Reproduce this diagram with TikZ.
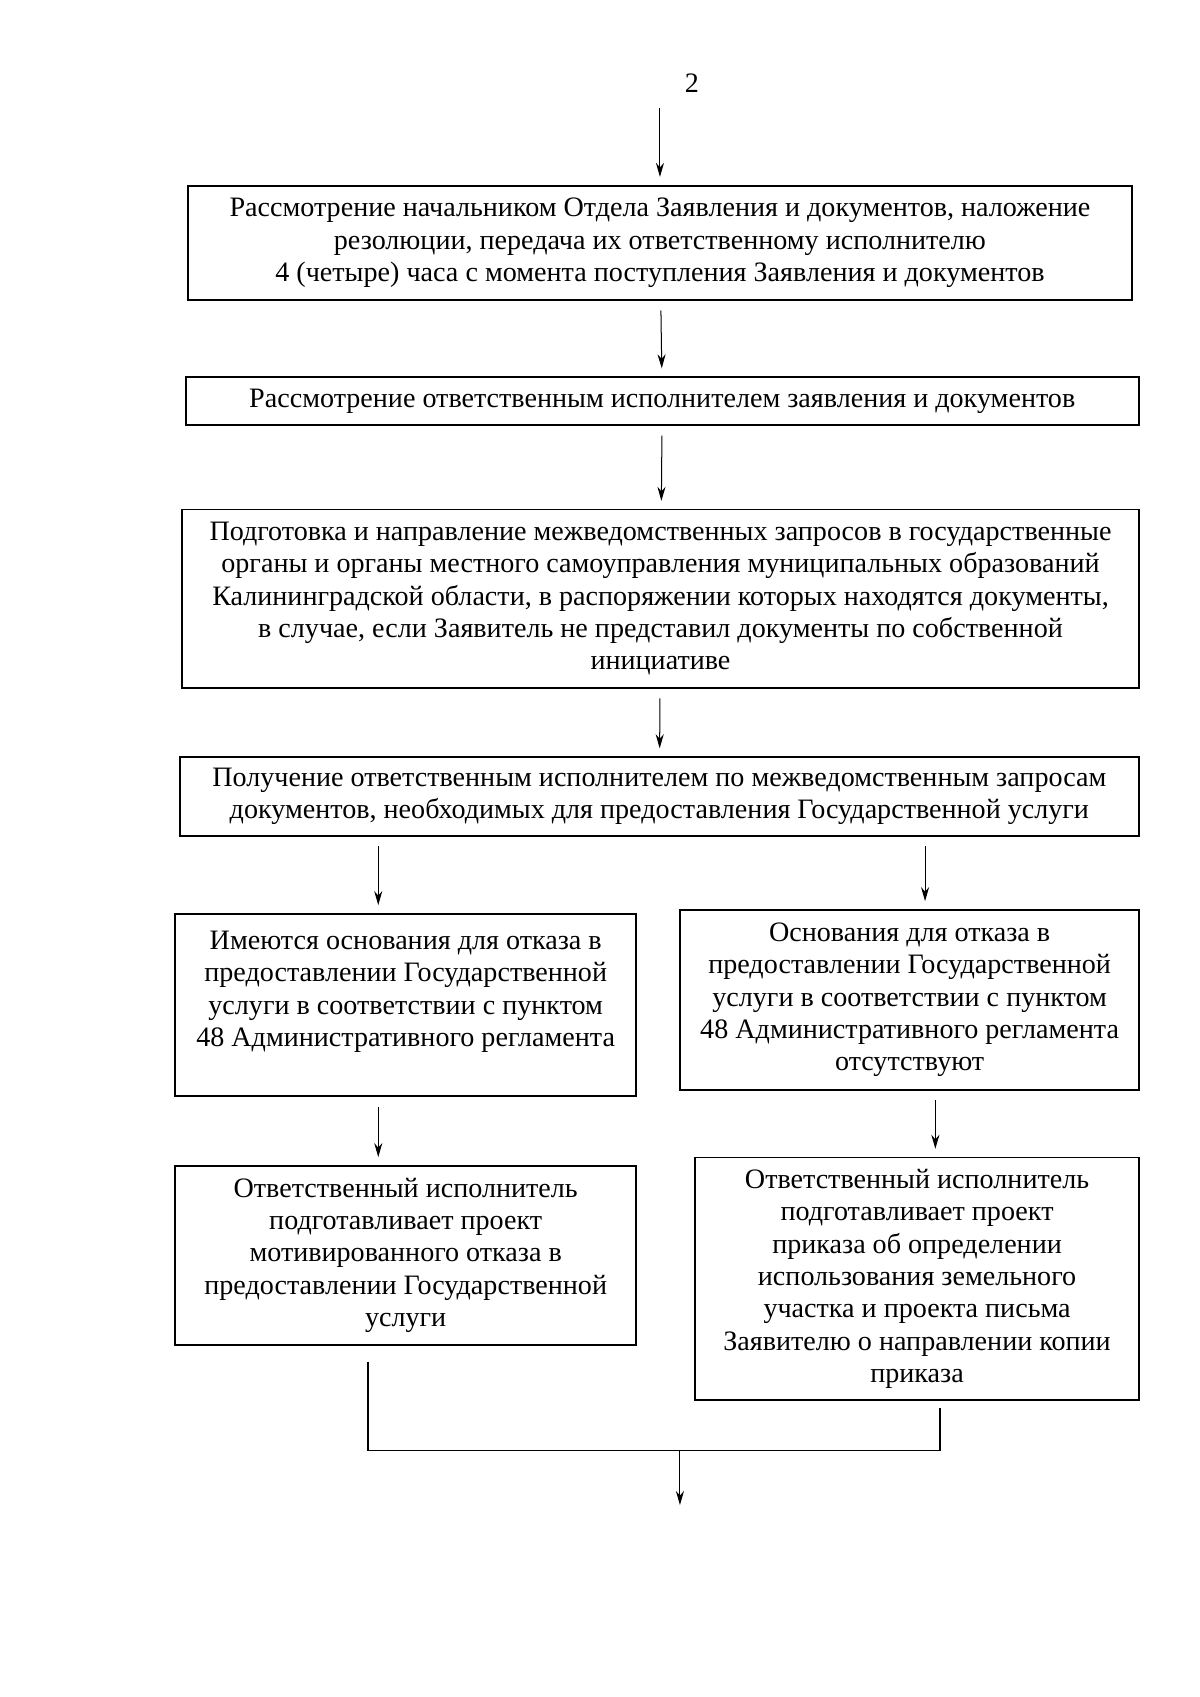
\documentclass[tikz,border=0pt]{standalone}
\usepackage{fontspec}
\setmainfont{Liberation Serif}
\usetikzlibrary{arrows.meta}
\tikzset{
  stage/.style={draw, rectangle, line width=0.8pt, align=center, inner sep=2pt},
  arr/.style={->, line width=0.5pt, shorten <=0.17cm, shorten >=0.14cm}
}
\begin{document}
\begin{tikzpicture}[>={Stealth[length=7pt,width=4pt]}, font=\fontsize{14}{16.1}\selectfont]
\useasboundingbox (0,0) rectangle (21,-29.7);
\node (num) at (12.11,-1.45) {2};
\coordinate (start) at (11.55,-1.89);

\node[stage, minimum width=16.52cm, minimum height=2.0cm] (b1) at (11.55,-4.25) {Рассмотрение начальником Отдела Заявления и документов, наложение\\резолюции, передача их ответственному исполнителю\\4 (четыре) часа с момента поступления Заявления и документов};
\node[stage, minimum width=16.68cm, minimum height=0.84cm] (b2) at (11.59,-7.02) {Рассмотрение ответственным исполнителем заявления и документов};
\node[stage, minimum width=16.75cm, minimum height=3.12cm] (b3) at (11.56,-10.48) {Подготовка и направление межведомственных запросов в государственные\\органы и органы местного самоуправления муниципальных образований\\Калининградской области, в распоряжении которых находятся документы,\\в случае, если Заявитель не представил документы по собственной\\инициативе};
\node[stage, minimum width=16.78cm, minimum height=1.38cm] (b4) at (11.54,-13.94) {Получение ответственным исполнителем по межведомственным запросам\\документов, необходимых для предоставления Государственной услуги};
\node[stage, minimum width=8.07cm, minimum height=3.19cm] (b5) at (7.10,-17.59) {Имеются основания для отказа в\\предоставлении Государственной\\услуги в соответствии с пунктом\\48 Административного регламента\\~};
\node[stage, minimum width=8.03cm, minimum height=3.15cm] (b6) at (15.92,-17.50) {Основания для отказа в\\предоставлении Государственной\\услуги в соответствии с пунктом\\48 Административного регламента\\отсутствуют};
\node[stage, minimum width=8.07cm, minimum height=3.13cm] (b7) at (7.10,-21.97) {Ответственный исполнитель\\подготавливает проект\\мотивированного отказа в\\предоставлении Государственной\\услуги};
\node[stage, minimum width=7.77cm, minimum height=4.24cm] (b8) at (16.05,-22.38) {Ответственный исполнитель\\подготавливает проект\\приказа об определении\\использования земельного\\участка и проекта письма\\Заявителю о направлении копии\\приказа};

\coordinate (mid) at (11.9,-25.38);
\coordinate (end) at (11.9,-26.34);

\draw[->, line width=0.5pt, shorten >=0.14cm] (start) -- (b1);
\draw[arr] (b1) -- (b2);
\draw[arr] (b2) -- (b3);
\draw[arr] (b3) -- (b4);
\draw[arr] ([xshift=-0.48cm]b5.north |- b4.south) -- ([xshift=-0.48cm]b5.north);
\draw[arr] ([xshift=0.27cm]b6.north |- b4.south) -- ([xshift=0.27cm]b6.north);
\draw[arr] ([xshift=-0.48cm]b5.south) -- ([xshift=-0.48cm]b5.south |- b7.north);
\draw[arr] ([xshift=0.45cm]b6.south) -- ([xshift=0.45cm]b6.south |- b8.north);

% merge of both branches
\draw[line width=0.6pt] ([xshift=-0.66cm,yshift=-0.28cm]b7.south) |- (mid) -| ([xshift=0.40cm,yshift=-0.12cm]b8.south);
\draw[->, line width=0.5pt] (mid) -- (end);
\end{tikzpicture}
\end{document}
